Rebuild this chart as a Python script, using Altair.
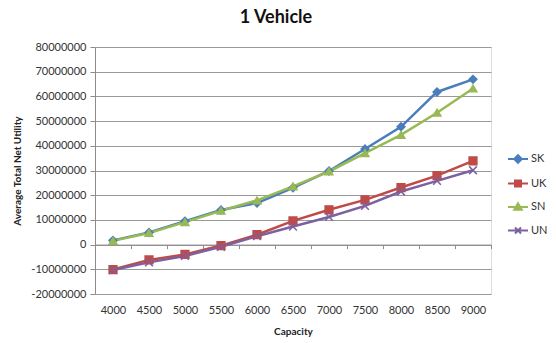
import altair as alt
import pandas as pd

# Capacity categories and average total net utility per strategy
capacity = ["4000", "4500", "5000", "5500", "6000", "6500", "7000", "7500", "8000", "8500", "9000"]
series_names = ["SK", "UK", "SN", "UN"]
sk = [1.7e6, 4.9e6, 9.5e6, 14.0e6, 16.8e6, 23.0e6, 29.8e6, 38.7e6, 47.7e6, 61.8e6, 66.9e6]
uk = [-10.1e6, -6.2e6, -4.0e6, -0.4e6, 4.0e6, 9.6e6, 14.1e6, 18.1e6, 23.1e6, 27.9e6, 33.9e6]
sn = [1.5e6, 4.7e6, 9.1e6, 13.7e6, 17.9e6, 23.6e6, 29.6e6, 37.0e6, 44.4e6, 53.4e6, 63.2e6]
un = [-10.3e6, -7.2e6, -4.6e6, -0.9e6, 3.4e6, 7.3e6, 11.2e6, 15.7e6, 21.5e6, 25.8e6, 30.1e6]
y_ticks = [-20000000, -10000000, 0, 10000000, 20000000, 30000000, 40000000,
           50000000, 60000000, 70000000, 80000000]

colors = ["#4A7EBB", "#BE4B48", "#98B954", "#7D60A0"]
marker_shapes = ["diamond", "square", "triangle-up", "M-1,-1L1,1M-1,1L1,-1"]
# legend keys: a short line with the series marker in the middle
legend_shapes = [
    "M-1,0H1M0,-0.38L0.38,0L0,0.38L-0.38,0Z",
    "M-1,0H1M-0.3,-0.3H0.3V0.3H-0.3Z",
    "M-1,0H1M0,-0.38L0.38,0.28H-0.38Z",
    "M-1,0H1M-0.3,-0.3L0.3,0.3M-0.3,0.3L0.3,-0.3",
]

rows = []
for name, vals in zip(series_names, [sk, uk, sn, un]):
    for c, v in zip(capacity, vals):
        rows.append({"Capacity": c, "Series": name, "Value": v})
df = pd.DataFrame(rows)

FONT = "Lato"
W, H = 396, 247


def color_scale():
    return alt.Scale(domain=series_names, range=colors)


x_axis = alt.Axis(
    title="Capacity",
    offset=-H * 0.2,
    domainColor="#8c8c8c",
    tickColor="#8c8c8c",
    tickBand="extent",
    tickSize=4,
    labelAngle=0,
    labelPadding=H * 0.2 + 6,
    labelFont=FONT,
    labelFontSize=11,
    labelColor="#333333",
    titleFont=FONT,
    titleFontSize=10,
    titleFontWeight="bold",
    titleColor="#222222",
    titlePadding=11,
)

y_axis = alt.Axis(
    title="Average Total Net Utility",
    values=y_ticks,
    labelExpr="(datum.value < 0 ? '-' : '') + format(abs(datum.value), 'd')",
    labelOverlap=False,
    grid=True,
    domainColor="#8c8c8c",
    tickColor="#8c8c8c",
    tickSize=5,
    gridColor="#9a9a9a",
    gridWidth=1,
    labelFont=FONT,
    labelFontSize=11,
    labelColor="#333333",
    labelPadding=4,
    titleFont=FONT,
    titleFontSize=10,
    titleFontWeight="bold",
    titleColor="#222222",
    titlePadding=8,
)


def x_enc():
    return alt.X("Capacity:N", sort=capacity,
                 scale=alt.Scale(paddingInner=0, paddingOuter=0), axis=x_axis)


def y_enc():
    return alt.Y("Value:Q",
                 scale=alt.Scale(domain=[-20000000, 80000000], nice=False, zero=False),
                 axis=y_axis)


legend = alt.Legend(
    title=None,
    orient="none",
    legendX=412,
    legendY=101,
    symbolSize=400,
    symbolStrokeWidth=2,
    rowPadding=5.5,
    labelFont=FONT,
    labelFontSize=11,
    labelColor="#333333",
    labelOffset=2,
)

lines = alt.Chart(df).mark_line(strokeWidth=2.5).encode(
    x=x_enc(),
    y=y_enc(),
    color=alt.Color("Series:N", scale=color_scale(), legend=None),
    detail="Series:N",
)

points = alt.Chart(df).mark_point(filled=True, size=60, opacity=1, strokeWidth=1.5).encode(
    x=x_enc(),
    y=y_enc(),
    color=alt.Color("Series:N", scale=color_scale(), legend=None),
    stroke=alt.Stroke("Series:N", scale=color_scale(), legend=None),
    shape=alt.Shape("Series:N", scale=alt.Scale(domain=series_names, range=marker_shapes), legend=None),
)

# draws no marks itself; only carries the legend with line-and-marker keys
legend_layer = (
    alt.Chart(df)
    .transform_filter("datum.Value > 1e12")
    .mark_point(filled=True, opacity=1, strokeWidth=2)
    .encode(
        x=x_enc(),
        y=y_enc(),
        color=alt.Color("Series:N", scale=color_scale(), legend=legend),
        stroke=alt.Stroke("Series:N", scale=color_scale(), legend=legend),
        shape=alt.Shape("Series:N", scale=alt.Scale(domain=series_names, range=legend_shapes), legend=legend),
    )
)

chart = (
    alt.layer(lines, points, legend_layer)
    .resolve_scale(shape="independent", color="independent", stroke="independent")
    .properties(
        width=W,
        height=H,
        autosize=alt.AutoSizeParams(type="none"),
        padding={"left": 95, "top": 47, "right": 65, "bottom": 49},
        title=alt.TitleParams(
            "1 Vehicle",
            font=FONT,
            fontSize=18,
            fontWeight="bold",
            color="#111111",
            anchor="middle",
            frame="group",
            dx=-17,
            offset=14,
        ),
    )
    .configure_view(stroke=None)
    .configure(background="white")
)

chart.save("out.html", embed_options={"renderer": "svg", "actions": False})
